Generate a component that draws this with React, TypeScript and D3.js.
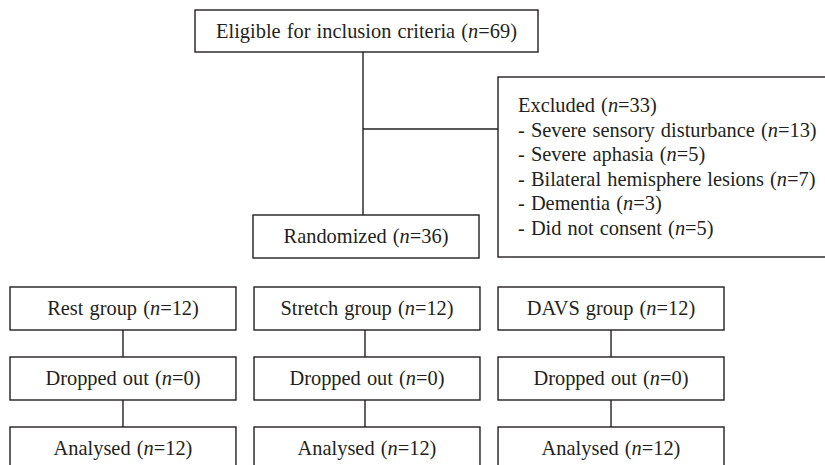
import React from 'react';
import * as d3 from 'd3';

// flow counts
const eligibleLabel = 'Eligible for inclusion criteria';
const eligibleN = 69;
const excludedN = 33;
const exclusionReasons = [
  'Severe sensory disturbance',
  'Severe aphasia',
  'Bilateral hemisphere lesions',
  'Dementia',
  'Did not consent',
];
const exclusionCounts = [13, 5, 7, 3, 5];
const randomizedN = 36;
const groups = ['Rest group', 'Stretch group', 'DAVS group'];
const groupCounts = [12, 12, 12];
const droppedCounts = [0, 0, 0];
const analysedCounts = [12, 12, 12];

const W = 825;
const H = 465;
const FONT = '"Liberation Serif", "Times New Roman", serif';
const FS = 20.4;
const INK = '#231f20';

// label with italic n
const NLabel = ({ x, y, label, n, anchor = 'middle' }) => (
  <text x={x} y={y} textAnchor={anchor} fontFamily={FONT} fontSize={FS} wordSpacing={1} fill={INK}>
    {label} (<tspan fontStyle="italic">n</tspan>={n})
  </text>
);

// box; textH lets the rect run past the page edge while the label stays put
const Box = ({ x, y, w, h, label, n, textH = h }) => (
  <g>
    <rect x={x} y={y} width={w} height={h} fill="#fff" stroke={INK} strokeWidth={1.4} />
    <NLabel x={x + w / 2} y={y + textH / 2 + FS * 0.33} label={label} n={n} />
  </g>
);

export default function App() {
  // three arms laid out by a band scale
  const xBand = d3.scaleBand().domain(groups).range([10, 724]).paddingInner(0.074);
  const bw = xBand.bandwidth();

  // vertical rows of the lower part
  const rows = d3.scaleOrdinal().domain(['group', 'dropped', 'analysed']).range([287, 357, 427]);
  const boxH = 43;

  // excluded list lines
  const lineY = d3.scaleLinear().domain([0, 1]).range([112, 136.5]);

  const top = { x: 195, y: 10, w: 343, h: 42 };
  const rand = { x: 253, y: 215, w: 226, h: 43 };
  const excl = { x: 498, y: 77, w: 340, h: 180 };
  const trunkX = 363;
  const branchY = 129;

  return (
    <svg width={W} height={H} style={{ position: 'absolute', left: 0, top: 0, background: '#fff' }}>
      <rect width={W} height={H} fill="#fff" />

      {/* trunk and branch to the excluded box */}
      <line x1={trunkX} x2={trunkX} y1={top.y + top.h} y2={rand.y} stroke={INK} strokeWidth={1.4} />
      <line x1={trunkX} x2={excl.x} y1={branchY} y2={branchY} stroke={INK} strokeWidth={1.4} />

      <Box {...top} label={eligibleLabel} n={eligibleN} />

      <rect x={excl.x} y={excl.y} width={excl.w} height={excl.h} fill="#fff" stroke={INK} strokeWidth={1.4} />
      <NLabel x={518} y={lineY(0)} label="Excluded" n={excludedN} anchor="start" />
      {exclusionReasons.map((r, i) => (
        <NLabel key={r} x={518} y={lineY(i + 1)} label={`- ${r}`} n={exclusionCounts[i]} anchor="start" />
      ))}

      <Box {...rand} label="Randomized" n={randomizedN} />

      {groups.map((g, i) => {
        const x0 = xBand(g);
        const cx = x0 + bw / 2 - (i === 1 ? 2 : 0);
        return (
          <g key={g}>
            <line x1={cx} x2={cx} y1={rows('group') + boxH} y2={rows('dropped')} stroke={INK} strokeWidth={1.4} />
            <line x1={cx} x2={cx} y1={rows('dropped') + boxH} y2={rows('analysed')} stroke={INK} strokeWidth={1.4} />
            <Box x={x0} y={rows('group')} w={bw} h={boxH} label={g} n={groupCounts[i]} />
            <Box x={x0} y={rows('dropped')} w={bw} h={boxH} label="Dropped out" n={droppedCounts[i]} />
            <Box x={x0} y={rows('analysed')} w={bw} h={boxH + 20} textH={boxH - 1} label="Analysed" n={analysedCounts[i]} />
          </g>
        );
      })}
    </svg>
  );
}
